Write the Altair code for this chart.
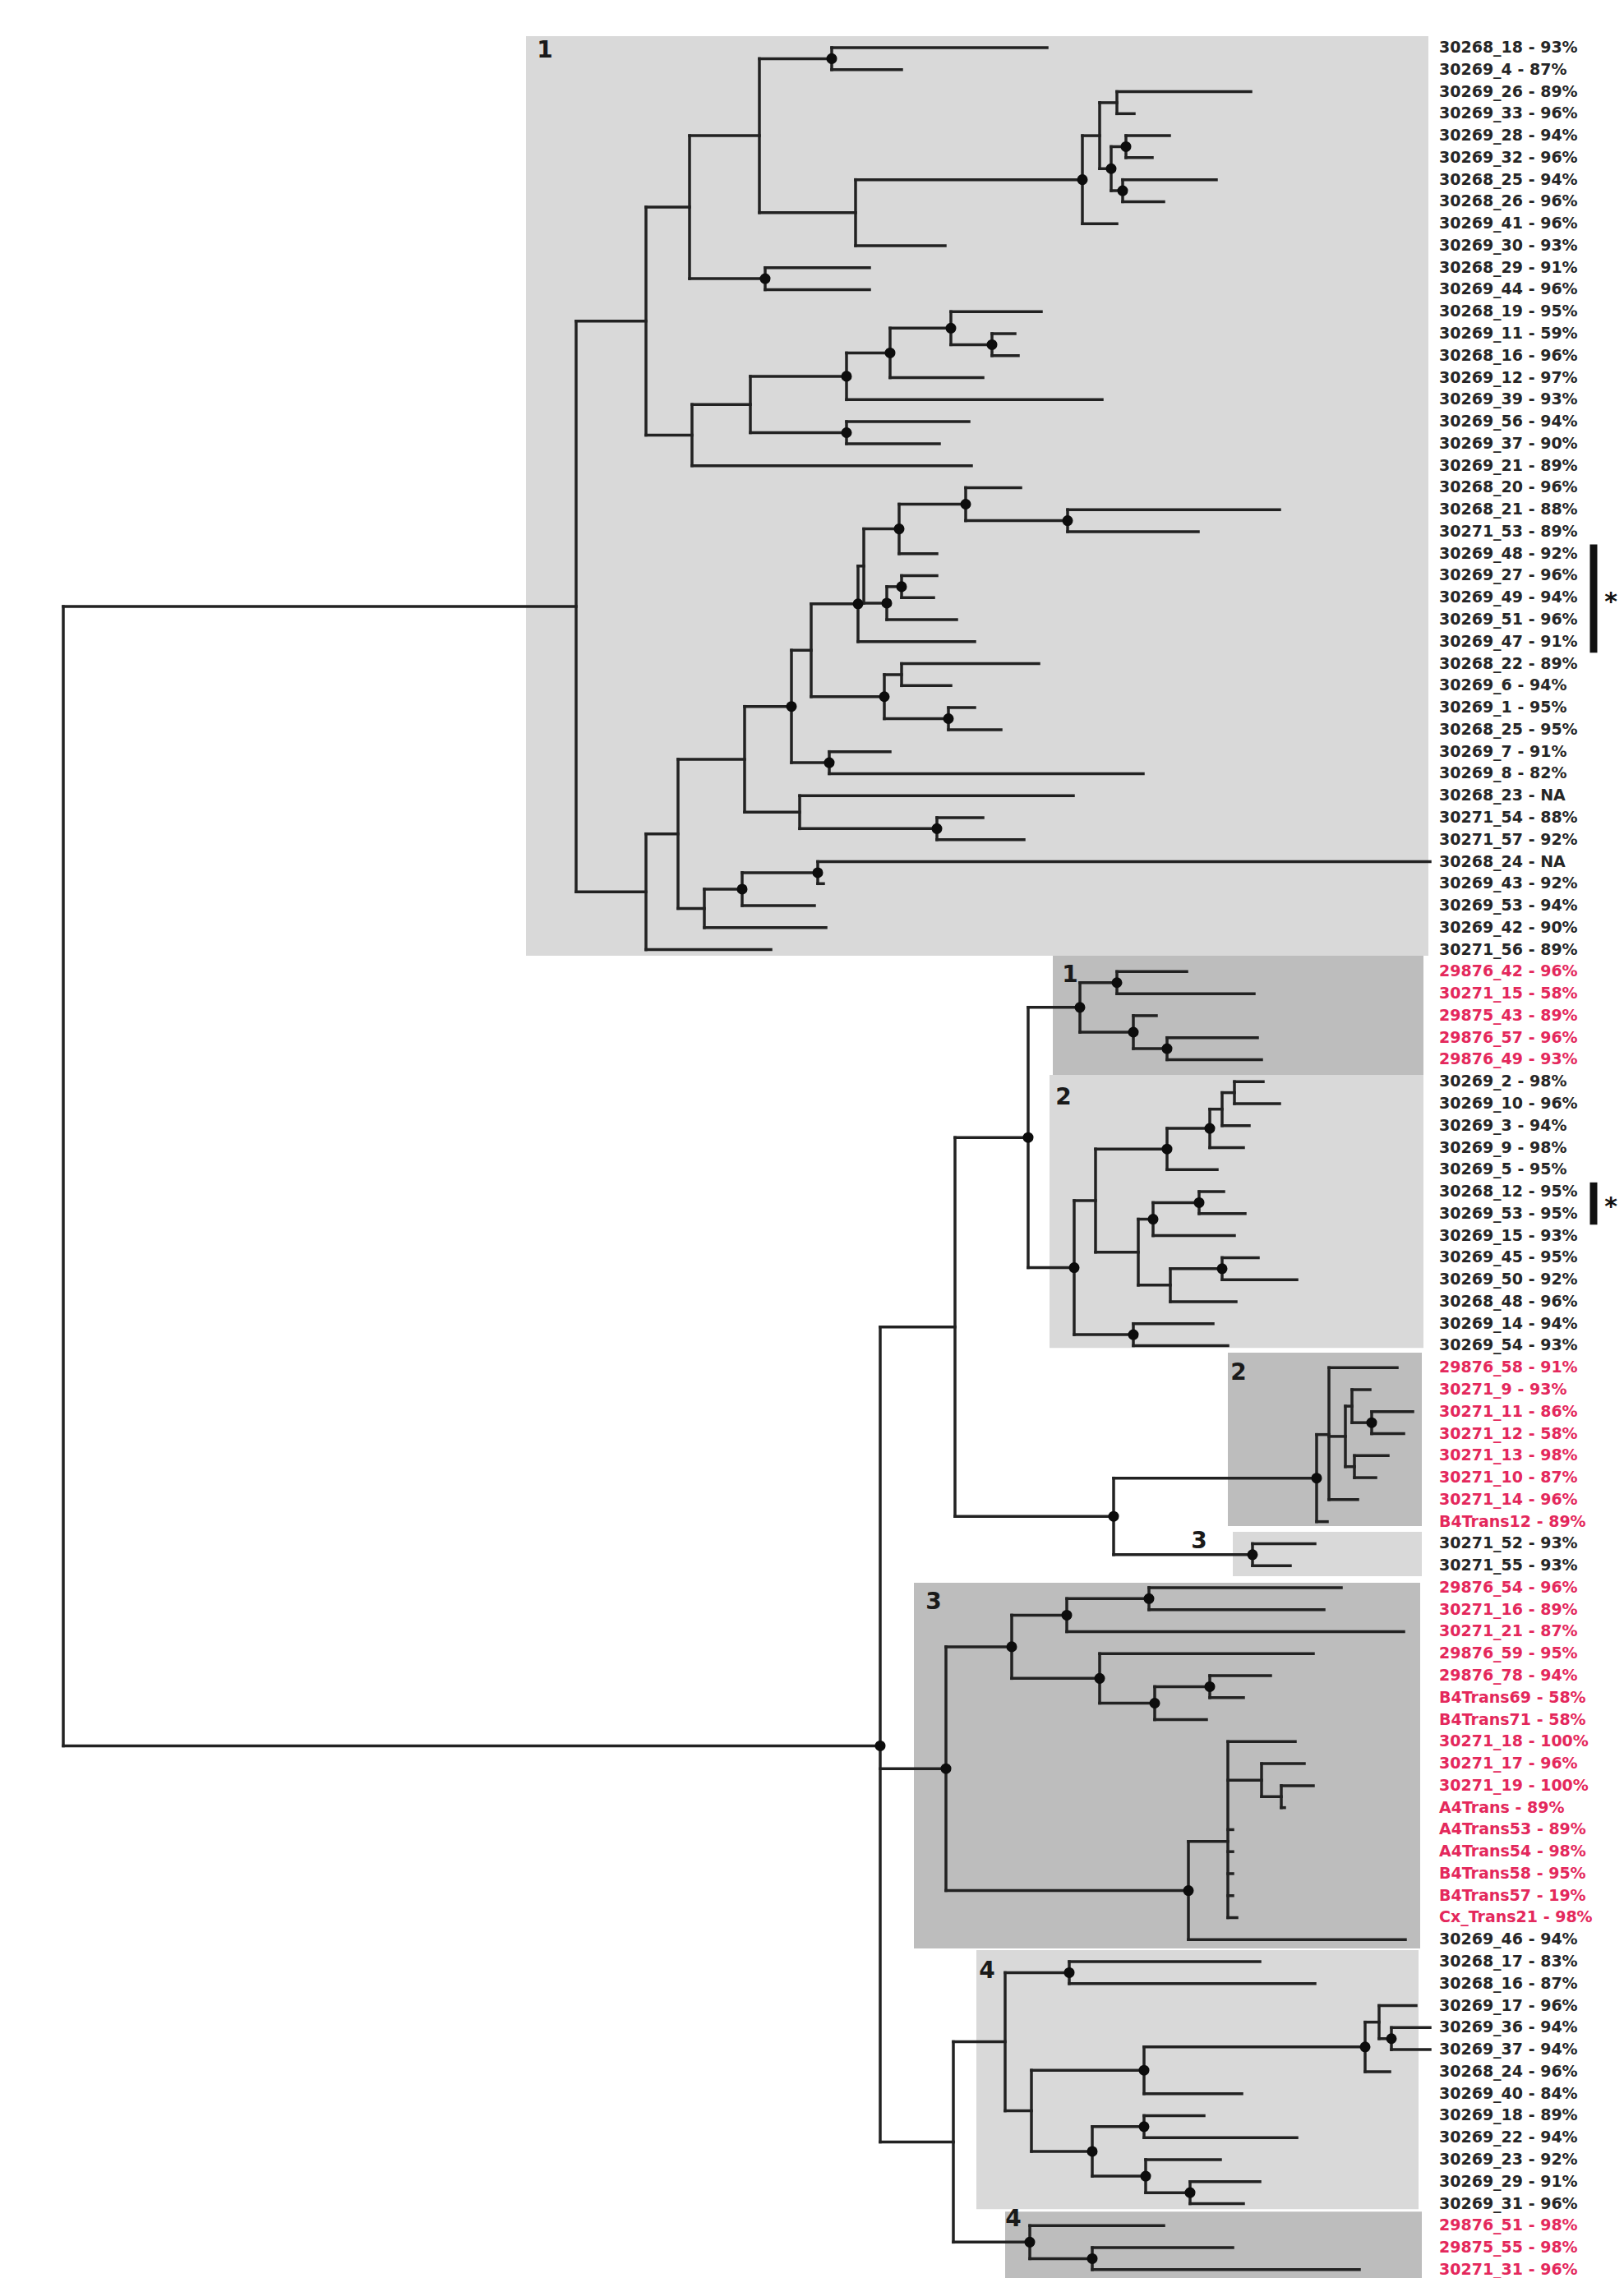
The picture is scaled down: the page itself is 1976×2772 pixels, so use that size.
import altair as alt
import pandas as pd

# ---------------- data ----------------
LEAF_NAMES = [
    "30268_18", "30269_4", "30269_26", "30269_33", "30269_28", "30269_32", "30268_25", "30268_26",
    "30269_41", "30269_30", "30268_29", "30269_44", "30268_19", "30269_11", "30268_16", "30269_12",
    "30269_39", "30269_56", "30269_37", "30269_21", "30268_20", "30268_21", "30271_53", "30269_48",
    "30269_27", "30269_49", "30269_51", "30269_47", "30268_22", "30269_6", "30269_1", "30268_25",
    "30269_7", "30269_8", "30268_23", "30271_54", "30271_57", "30268_24", "30269_43", "30269_53",
    "30269_42", "30271_56",
    "29876_42", "30271_15", "29875_43", "29876_57", "29876_49",
    "30269_2", "30269_10", "30269_3", "30269_9", "30269_5", "30268_12", "30269_53", "30269_15",
    "30269_45", "30269_50", "30268_48", "30269_14", "30269_54",
    "29876_58", "30271_9", "30271_11", "30271_12", "30271_13", "30271_10", "30271_14", "B4Trans12",
    "30271_52", "30271_55",
    "29876_54", "30271_16", "30271_21", "29876_59", "29876_78", "B4Trans69", "B4Trans71", "30271_18",
    "30271_17", "30271_19", "A4Trans", "A4Trans53", "A4Trans54", "B4Trans58", "B4Trans57", "Cx_Trans21",
    "30269_46",
    "30268_17", "30268_16", "30269_17", "30269_36", "30269_37", "30268_24", "30269_40", "30269_18",
    "30269_22", "30269_23", "30269_29", "30269_31",
    "29876_51", "29875_55", "30271_31",
]
LEAF_PCT = [
    "93%", "87%", "89%", "96%", "94%", "96%", "94%", "96%", "96%", "93%", "91%", "96%", "95%", "59%",
    "96%", "97%", "93%", "94%", "90%", "89%", "96%", "88%", "89%", "92%", "96%", "94%", "96%", "91%",
    "89%", "94%", "95%", "95%", "91%", "82%", "NA", "88%", "92%", "NA", "92%", "94%", "90%", "89%",
    "96%", "58%", "89%", "96%", "93%",
    "98%", "96%", "94%", "98%", "95%", "95%", "95%", "93%", "95%", "92%", "96%", "94%", "93%",
    "91%", "93%", "86%", "58%", "98%", "87%", "96%", "89%",
    "93%", "93%",
    "96%", "89%", "87%", "95%", "94%", "58%", "58%", "100%", "96%", "100%", "89%", "89%", "98%",
    "95%", "19%", "98%",
    "94%",
    "83%", "87%", "96%", "94%", "94%", "96%", "84%", "89%", "94%", "92%", "91%", "96%",
    "98%", "98%", "96%",
]
# 'ref' = dark label, 'trans' = red label
LEAF_GROUP = (["ref"] * 42 + ["trans"] * 5 + ["ref"] * 13 + ["trans"] * 8 + ["ref"] * 2
              + ["trans"] * 16 + ["ref"] * 13 + ["trans"] * 3)

# tip depth of every leaf (tree distance units)
TIP_DEPTH = [
    1274, 1097, 1522, 1380, 1423, 1402, 1480, 1416, 1359, 1150, 1058, 1058, 1267, 1235, 1239, 1196,
    1341, 1179, 1143, 1182, 1242, 1557, 1458, 1140, 1140, 1136, 1164, 1186, 1264, 1157, 1186, 1218,
    1083, 1391, 1306, 1196, 1246, 1740, 1002, 991, 1005, 938,
    1444, 1526, 1407, 1530, 1535,
    1537, 1557, 1520, 1513, 1481, 1489, 1515, 1502, 1531, 1578, 1504, 1476, 1494,
    1700, 1667, 1719, 1708, 1689, 1674, 1652, 1615,
    1600, 1570,
    1632, 1611, 1708, 1598, 1546, 1513, 1468, 1576, 1587, 1598, 1563, 1500, 1500, 1500, 1500, 1505,
    1710,
    1533, 1600, 1723, 1740, 1740, 1691, 1511, 1465, 1578, 1485, 1533, 1513,
    1416, 1500, 1654,
]

# internal nodes: (name, depth, children)  children = leaf index or node name
NODES = [
    ("A", 1012, [0, 1]), ("n23", 1359, [2, 3]), ("n45", 1370, [4, 5]), ("n67", 1366, [6, 7]),
    ("n4567", 1352, ["n45", "n67"]), ("S", 1338, ["n23", "n4567"]), ("n1317", 1317, ["S", 8]),
    ("n1041", 1041, ["n1317", 9]), ("n924", 924, ["A", "n1041"]), ("B", 931, [10, 11]),
    ("n839", 839, ["n924", "B"]), ("D", 1207, [13, 14]), ("E", 1157, [12, "D"]), ("F", 1083, ["E", 15]),
    ("G", 1030, ["F", 16]), ("C", 1030, [17, 18]), ("H", 913, ["G", "C"]), ("I", 842, ["H", 19]),
    ("n786", 786, ["n839", "I"]),
    ("S1", 1299, [21, 22]), ("S2", 1175, [20, "S1"]), ("S3", 1094, ["S2", 23]), ("T1", 1097, [24, 25]),
    ("T2", 1079, ["T1", 26]), ("V", 1051, ["S3", "T2"]), ("U", 1044, ["V", 27]), ("P", 1097, [28, 29]),
    ("Q", 1154, [30, 31]), ("R", 1076, ["P", "Q"]), ("W", 987, ["U", "R"]), ("O", 1009, [32, 33]),
    ("X", 963, ["W", "O"]), ("M", 1140, [35, 36]), ("N", 973, [34, "M"]), ("Y", 906, ["X", "N"]),
    ("J", 995, [37, 38]), ("K", 903, ["J", 39]), ("L", 857, ["K", 40]), ("Z", 825, ["Y", "L"]),
    ("AA", 786, ["Z", 41]), ("C1", 701, ["n786", "AA"]),
    ("EE", 1359, [42, 43]), ("FF", 1420, [45, 46]), ("GG", 1379, [44, "FF"]), ("HH", 1314, ["EE", "GG"]),
    ("JJ", 1502, [47, 48]), ("KK", 1487, ["JJ", 49]), ("LL", 1472, ["KK", 50]), ("MM", 1420, ["LL", 51]),
    ("NN", 1459, [52, 53]), ("OO", 1403, ["NN", 54]), ("PP", 1487, [55, 56]), ("QQ", 1424, ["PP", 57]),
    ("RR", 1385, ["OO", "QQ"]), ("SS", 1333, ["MM", "RR"]), ("II", 1379, [58, 59]),
    ("TT", 1307, ["SS", "II"]), ("UU", 1251, ["HH", "TT"]),
    ("WW", 1669, [62, 63]), ("XX", 1645, [61, "WW"]), ("YY", 1648, [64, 65]), ("ZZ", 1637, ["XX", "YY"]),
    ("AB", 1617, [60, "ZZ", 66]), ("CC", 1602, ["AB", 67]), ("BB", 1524, [68, 69]),
    ("DD", 1355, ["CC", "BB"]), ("VV", 1162, ["UU", "DD"]),
    ("AC", 1398, [70, 71]), ("AD", 1298, ["AC", 72]), ("AE", 1472, [74, 75]), ("AF", 1405, ["AE", 76]),
    ("AG", 1338, [73, "AF"]), ("AH", 1231, ["AD", "AG"]), ("AI", 1559, [79, 80]), ("AJ", 1535, [78, "AI"]),
    ("AK", 1494, [77, "AJ", 81, 82, 83, 84, 85]), ("AL", 1446, ["AK", 86]), ("AM", 1151, ["AH", "AL"]),
    ("CD", 1693, [90, 91]), ("CE", 1678, [89, "CD"]), ("CF", 1661, ["CE", 92]), ("CG", 1392, ["CF", 93]),
    ("CH", 1392, [94, 95]), ("CI", 1448, [97, 98]), ("CJ", 1394, [96, "CI"]), ("CK", 1329, ["CH", "CJ"]),
    ("CL", 1255, ["CG", "CK"]), ("CC2", 1301, [87, 88]), ("CM", 1223, ["CC2", "CL"]),
    ("CA", 1329, [100, 101]), ("CB", 1253, [99, "CA"]), ("BX", 1160, ["CM", "CB"]),
    ("LR", 1071, ["VV", "AM", "BX"]),
    ("ROOT", 77, ["C1", "LR"]),
]
DOT_NODES = [
    "A", "n45", "n67", "n4567", "n1317", "B", "C", "G", "F", "E", "D", "J", "K", "M", "X", "O", "R", "Q",
    "U", "S3", "S2", "S1", "T1", "T2", "LR", "UU", "DD", "HH", "EE", "GG", "FF", "TT", "MM", "LL", "OO",
    "NN", "PP", "II", "CC", "WW", "BB", "AM", "AH", "AD", "AC", "AG", "AF", "AE", "AL", "CB", "CA",
    "CC2", "CG", "CF", "CD", "CK", "CH", "CJ", "CI",
]

# shaded clade boxes: left depth, top row, bottom row, shade
BOX_LEFT = [640, 1281, 1277, 1494, 1500, 1112, 1188, 1223]
BOX_TOP = [-0.52, 41.28, 46.69, 59.32, 67.46, 69.78, 86.48, 98.36]
BOX_BOTTOM = [41.28, 46.69, 59.1, 67.2, 69.48, 86.4, 98.25, 101.38]
BOX_RIGHT = [1738, 1732, 1732, 1730, 1730, 1728, 1726, 1730]
BOX_SHADE = ["light", "dark", "light", "dark", "light", "dark", "light", "dark"]

# clade numbers
CLADE_TEXT = ["1", "1", "2", "2", "3", "3", "4", "4"]
CLADE_X = [663, 1302, 1294, 1507, 1459, 1136, 1201, 1233]
CLADE_Y = [0.15, 42.17, 47.74, 60.25, 67.9, 70.68, 87.45, 98.73]

# starred groups (first leaf, last leaf)
STAR_FIRST = [23, 52]
STAR_LAST = [27, 53]

# ---------------- layout of the tree ----------------
node_map = {n: (d, ch) for n, d, ch in NODES}
ycache = {}


def ypos(c):
    if isinstance(c, int):
        return float(c)
    if c not in ycache:
        ch = node_map[c][1]
        ycache[c] = sum(ypos(k) for k in ch) / len(ch)
    return ycache[c]


def xpos(c):
    return float(TIP_DEPTH[c]) if isinstance(c, int) else float(node_map[c][0])


segs = []
for n, d, ch in NODES:
    ys = [ypos(k) for k in ch]
    segs.append({"x": d, "x2": d, "y": min(ys), "y2": max(ys)})
    for k in ch:
        segs.append({"x": d, "x2": xpos(k), "y": ypos(k), "y2": ypos(k)})
seg_df = pd.DataFrame(segs)

dot_df = pd.DataFrame({"x": [xpos(n) for n in DOT_NODES], "y": [ypos(n) for n in DOT_NODES]})

leaf_df = pd.DataFrame({
    "y": list(range(len(LEAF_NAMES))),
    "label": [f"{a} - {b}" for a, b in zip(LEAF_NAMES, LEAF_PCT)],
    "group": LEAF_GROUP,
})

box_df = pd.DataFrame({"x": BOX_LEFT, "x2": BOX_RIGHT, "y": BOX_TOP, "y2": BOX_BOTTOM, "shade": BOX_SHADE})
clade_df = pd.DataFrame({"x": CLADE_X, "y": CLADE_Y, "t": CLADE_TEXT})
star_df = pd.DataFrame({
    "y": [f - 0.42 for f in STAR_FIRST],
    "y2": [l + 0.5 for l in STAR_LAST],
    "ym": [(f + l) / 2.0 + 0.05 for f, l in zip(STAR_FIRST, STAR_LAST)],
})

# ---------------- chart ----------------
XS = alt.Scale(domain=[8, 1968], nice=False, zero=False)
YS = alt.Scale(domain=[-1.868, 101.38], reverse=True, nice=False, zero=False)


def X(f):
    return alt.X(f, scale=XS, axis=None)


def Y(f):
    return alt.Y(f, scale=YS, axis=None)


boxes = alt.Chart(box_df).mark_rect().encode(
    x=X("x:Q"), x2="x2:Q", y=Y("y:Q"), y2="y2:Q",
    fill=alt.Fill("shade:N", scale=alt.Scale(domain=["light", "dark"], range=["#d9d9d9", "#bdbdbd"]),
                  legend=None),
)

tree = alt.Chart(seg_df).mark_rule(strokeWidth=3.5, color="#222222", strokeCap="square").encode(
    x=X("x:Q"), x2="x2:Q", y=Y("y:Q"), y2="y2:Q"
)

dots = alt.Chart(dot_df).mark_point(filled=True, shape="circle", size=170, color="#0d0d0d", opacity=1).encode(
    x=X("x:Q"), y=Y("y:Q")
)

labels = alt.Chart(leaf_df).mark_text(
    align="left", baseline="middle", font="DejaVu Sans", fontSize=19, fontWeight="bold"
).encode(
    x=alt.value(1743), y=Y("y:Q"), text="label:N",
    color=alt.Color("group:N", scale=alt.Scale(domain=["ref", "trans"], range=["#262626", "#e4285c"]),
                    legend=None),
)

clade_labels = alt.Chart(clade_df).mark_text(
    align="center", baseline="middle", font="DejaVu Sans", fontSize=28, fontWeight="bold", color="#1a1a1a"
).encode(x=X("x:Q"), y=Y("y:Q"), text="t:N")

star_bars = alt.Chart(star_df).mark_rule(strokeWidth=9, color="#111111").encode(
    x=alt.value(1931), y=Y("y:Q"), y2="y2:Q"
)
stars = alt.Chart(star_df).mark_text(
    text="*", align="center", baseline="middle", font="DejaVu Sans", fontSize=30, fontWeight="bold",
    color="#111111", dy=4
).encode(x=alt.value(1952), y=Y("ym:Q"))

chart = alt.layer(boxes, tree, dots, labels, clade_labels, star_bars, stars).resolve_scale(
    color="independent", fill="independent"
).properties(
    width=1960, height=2764, padding=0, autosize="none", background="white"
).configure_view(stroke=None)

chart.save("out.html", embed_options={"renderer": "svg", "actions": False})
